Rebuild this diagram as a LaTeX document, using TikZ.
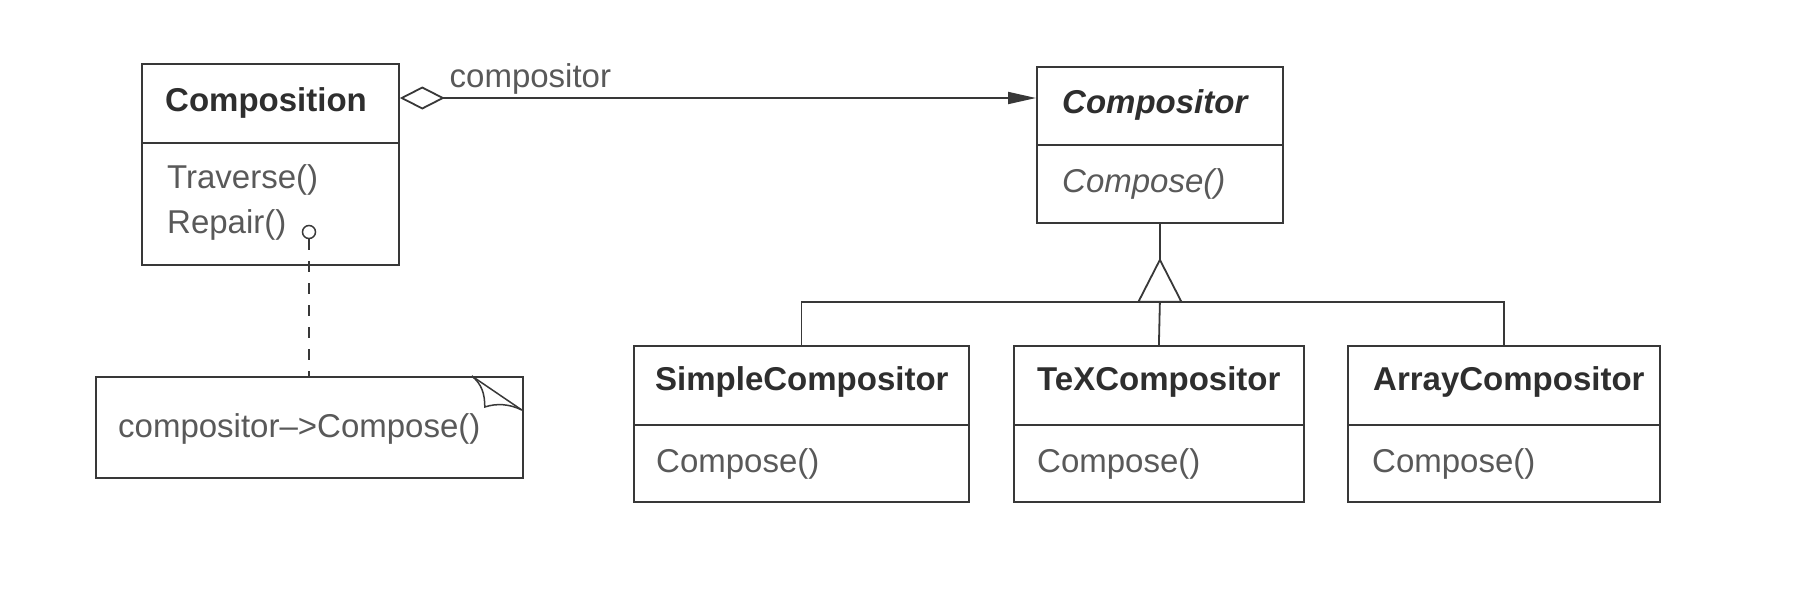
\documentclass[tikz,border=0pt]{standalone}
\usepackage{fontspec}
\setmainfont{Liberation Sans}
\usetikzlibrary{arrows.meta,calc}
\definecolor{lncol}{HTML}{383838}
\definecolor{tbcol}{HTML}{2E2E2E}
\definecolor{trcol}{HTML}{595959}
\begin{document}
\begin{tikzpicture}[x=1pt,y=-1pt,
  box/.style={draw=lncol, line width=1.8pt, rectangle, inner sep=0pt, anchor=north west},
  ttl/.style={anchor=base west, inner sep=0pt, text=tbcol, font=\fontsize{33pt}{40pt}\selectfont\bfseries},
  op/.style={anchor=base west, inner sep=0pt, text=trcol, font=\fontsize{33pt}{40pt}\selectfont},
  conn/.style={draw=lncol, line width=1.8pt}]
\fill[white] (0,0) rectangle (1794,590);
\useasboundingbox (0,0) rectangle (1794,590);

% Composition
\node[box, minimum width=257pt, minimum height=79pt] (comptitle) at (141,63) {};
\node[box, minimum width=257pt, minimum height=122pt] (compbody) at (141,142) {};
\node[ttl] (compname) at ($(comptitle.north west)+(24,48)$) {Composition};
\node[op] (traverse) at ($(compbody.north west)+(26,46)$) {Traverse()};
\node[op] (repair) at ($(compbody.north west)+(26,91)$) {Repair()};
\node[circle, draw=lncol, line width=1.5pt, minimum size=13pt, inner sep=0pt] (dot) at (309,232) {};

% Compositor
\node[box, minimum width=246pt, minimum height=78pt] (cortitle) at (1036,66) {};
\node[box, minimum width=246pt, minimum height=78pt] (corbody) at (1036,144) {};
\node[ttl, font=\fontsize{33pt}{40pt}\selectfont\bfseries\itshape] (corname) at ($(cortitle.north west)+(26,47)$) {Compositor};
\node[op, font=\fontsize{33pt}{40pt}\selectfont\itshape] (corop) at ($(corbody.north west)+(26,48)$) {Compose()};

% Subclasses
\node[box, minimum width=335pt, minimum height=79pt] (simtitle) at (633,345) {};
\node[box, minimum width=335pt, minimum height=77pt] (simbody) at (633,424) {};
\node[ttl] (simname) at ($(simtitle.north west)+(22,45)$) {SimpleCompositor};
\node[op] (simop) at ($(simbody.north west)+(23,48)$) {Compose()};

\node[box, minimum width=290pt, minimum height=79pt] (textitle) at (1013,345) {};
\node[box, minimum width=290pt, minimum height=77pt] (texbody) at (1013,424) {};
\node[ttl] (texname) at ($(textitle.north west)+(24,45)$) {TeXCompositor};
\node[op] (texop) at ($(texbody.north west)+(24,48)$) {Compose()};

\node[box, minimum width=312pt, minimum height=79pt] (arrtitle) at (1347,345) {};
\node[box, minimum width=312pt, minimum height=77pt] (arrbody) at (1347,424) {};
\node[ttl] (arrname) at ($(arrtitle.north west)+(26,45)$) {ArrayCompositor};
\node[op] (arrop) at ($(arrbody.north west)+(25,48)$) {Compose()};

% Note
\node[box, minimum width=427pt, minimum height=101pt] (note) at (95,376) {};
\node[op] (notetext) at ($(note.north west)+(23,61)$) {compositor\textendash{}>Compose()};
\coordinate (f1) at ($(note.north east)+(-52,0)$);
\coordinate (f2) at ($(note.north east)+(-2,34)$);
\coordinate (f3) at ($(note.north east)+(-39,31)$);
\draw[conn, line width=1.5pt] (f1) -- (f2);
\draw[conn, line width=1.5pt] (f1) .. controls ($(f1)+(10,8)$) and ($(f1)+(13,18)$) .. (f3)
  .. controls ($(f3)+(12,-4)$) and ($(f3)+(25,-3)$) .. (f2);

% dashed link to note
\draw[conn, dash pattern=on 11pt off 11pt] (dot.south) -- (dot.south |- note.north);

% aggregation
\coordinate (aggs) at ([yshift=-35pt]comptitle.north east);
\draw[conn, {Diamond[open,length=45pt,width=23pt]}-{Triangle[length=28pt,width=12pt]}]
  (aggs) -- node[op, pos=0, xshift=49pt, yshift=11pt] (agglabel) {compositor} (aggs -| cortitle.west);

% inheritance
\coordinate (apex) at ($(corbody.south)+(0,36)$);
\coordinate (bus) at ($(corbody.south)+(0,78)$);
\draw[conn] (corbody.south) -- (apex);
\draw[conn, line join=miter] (apex) -- ++(-21.5,42) -- ++(43,0) -- cycle;
\draw[conn] (simtitle.north) -- (simtitle.north |- bus) -- (arrtitle.north |- bus) -- (arrtitle.north);
\draw[conn] (bus) -- (textitle.north);
\end{tikzpicture}
\end{document}
